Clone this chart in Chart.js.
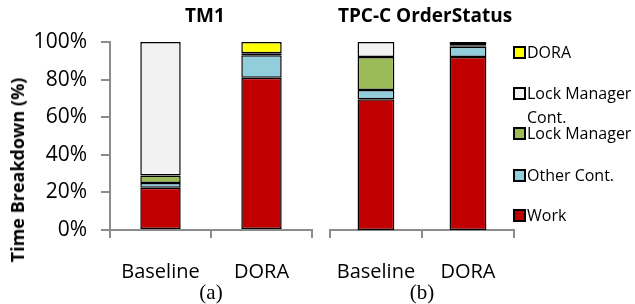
<!DOCTYPE html>
<html>
<head>
<meta charset="utf-8">
<script src="https://cdn.jsdelivr.net/npm/chart.js@4.4.1/dist/chart.umd.min.js"></script>
<style>
  body { margin: 0; background: #fff; font-family: "Open Sans", sans-serif; }
  #wrap { position: relative; width: 635px; height: 304px; overflow: hidden; }
  canvas { position: absolute; top: 0; }
  #c1 { left: 0; }
  #c2 { left: 314px; }
  .title { position: absolute; top: 3px; font-weight: bold; font-size: 19px; line-height: 24px; transform: translateX(-50%); white-space: nowrap; }
  #ytitle { position: absolute; left: 17px; top: 170px; font-weight: bold; font-size: 18px; line-height: 20px; white-space: nowrap; transform: translate(-50%, -50%) rotate(-90deg); }
  .lg { position: absolute; left: 513px; font-size: 16px; line-height: 24px; white-space: nowrap; }
  .lg i { position: absolute; left: 0; top: 6px; width: 9px; height: 9px; border: 2px solid #000; }
  .lg span { display: block; margin-left: 14px; }
</style>
</head>
<body>
<div id="wrap">
  <canvas id="c1" width="314" height="304"></canvas>
  <canvas id="c2" width="321" height="304"></canvas>
  <div class="title" style="left:205px">TM1</div>
  <div class="title" style="left:425px">TPC-C OrderStatus</div>
  <div id="ytitle">Time Breakdown (%)</div>
  <div id="legend"></div>
</div>
<script>
// Data
const categories = ["Baseline", "DORA"];
const seriesNames = ["Work", "Other Cont.", "Lock Manager", "Lock Manager Cont.", "DORA"];
const seriesColors = ["#C00000", "#92CDDC", "#9BBB59", "#F2F2F2", "#FFFF00"];
// values per series: [Baseline, DORA]
const tm1Work = [22.5, 81];
const tm1Other = [2.5, 12];
const tm1Lock = [4, 0];
const tm1LockCont = [71, 1];
const tm1Dora = [0, 6];
const tpccWork = [69.5, 92];
const tpccOther = [5, 5.5];
const tpccLock = [17.5, 0.5];
const tpccLockCont = [8, 1];
const tpccDora = [0, 1];
const yTicks = [0, 20, 40, 60, 80, 100];

const axisGray = "#8c8c8c";

function makeDatasets(arrs) {
  return arrs.map((d, i) => ({
    label: seriesNames[i],
    data: d,
    backgroundColor: seriesColors[i],
    borderColor: "#000",
    borderWidth: 1.5,
    borderSkipped: false,
    categoryPercentage: 1,
    barPercentage: 0.4,
  }));
}

function makeOptions(showY, xTitle, padLeft, padRight) {
  return {
    responsive: false,
    animation: false,
    layout: { padding: { top: 42, left: padLeft, right: padRight, bottom: 0 } },
    plugins: { legend: { display: false }, tooltip: { enabled: false } },
    scales: {
      x: {
        stacked: true,
        grid: { offset: true, drawOnChartArea: false, tickLength: 8, color: axisGray, lineWidth: 2 },
        border: { color: axisGray, width: 2 },
        ticks: { color: "#000", font: { family: "Open Sans", size: 20 }, padding: 22, maxRotation: 0, autoSkip: false },
        title: { display: true, text: xTitle, color: "#000", font: { family: "Liberation Serif", size: 21, lineHeight: 1 }, padding: { top: 0, bottom: 0 } },
        afterFit: (s) => { s.height = 74; },
      },
      y: {
        display: showY,
        stacked: true,
        min: 0,
        max: 100,
        afterBuildTicks: (s) => { s.ticks = yTicks.map((v) => ({ value: v })); },
        grid: { drawOnChartArea: false, tickLength: 9, color: axisGray, lineWidth: 2 },
        border: { color: axisGray, width: 2 },
        ticks: { color: "#000", font: { family: "Open Sans", size: 21 }, padding: 14, callback: (v) => v + "%" },
        afterFit: (s) => { s.width = showY ? 110 : 0; },
      },
    },
  };
}

new Chart(document.getElementById("c1"), {
  type: "bar",
  data: { labels: categories, datasets: makeDatasets([tm1Work, tm1Other, tm1Lock, tm1LockCont, tm1Dora]) },
  options: makeOptions(true, "(a)", 0, 2),
});

new Chart(document.getElementById("c2"), {
  type: "bar",
  data: { labels: categories, datasets: makeDatasets([tpccWork, tpccOther, tpccLock, tpccLockCont, tpccDora]) },
  options: makeOptions(false, "(b)", 3, 121),
});

// Legend (top to bottom, reversed order like Excel)
const legendTops = [40, 81, 121, 163, 203];
const legendText = ["DORA", "Lock Manager<br>Cont.", "Lock Manager", "Other Cont.", "Work"];
const legend = document.getElementById("legend");
[4, 3, 2, 1, 0].forEach((si, k) => {
  const el = document.createElement("div");
  el.className = "lg";
  el.style.top = legendTops[k] + "px";
  el.innerHTML = `<i style="background:${seriesColors[si]}"></i><span>${legendText[k]}</span>`;
  legend.appendChild(el);
});
</script>
</body>
</html>
